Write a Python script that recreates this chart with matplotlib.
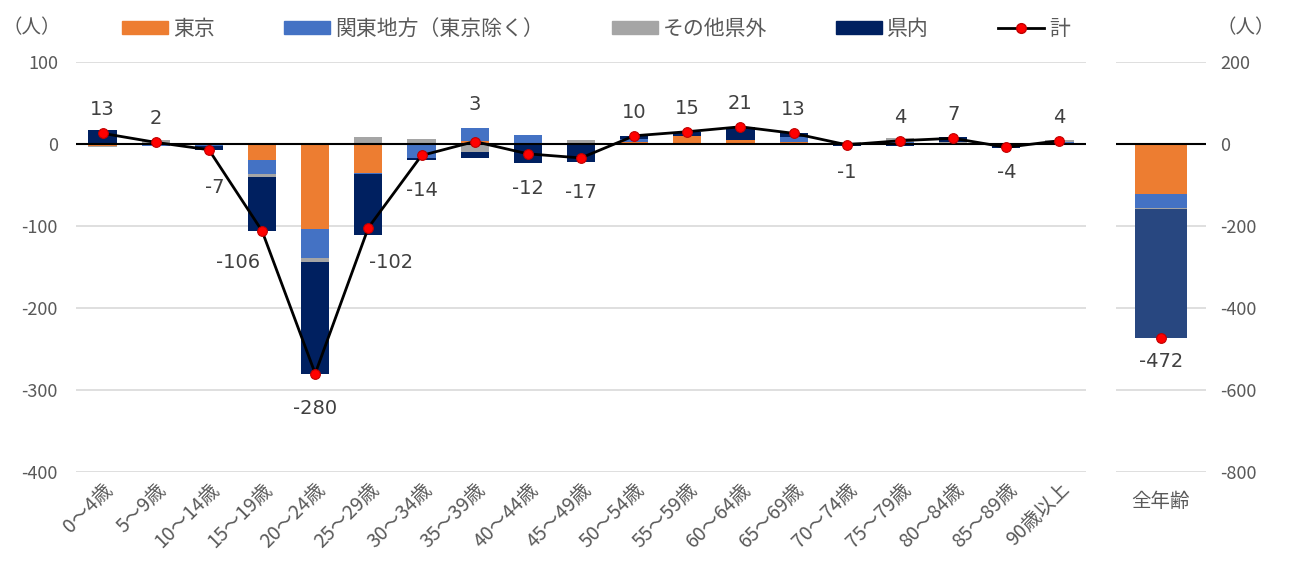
import matplotlib
matplotlib.use("Agg")
import matplotlib.pyplot as plt
from matplotlib.patches import Patch
from matplotlib.lines import Line2D
import numpy as np

plt.rcParams['font.family'] = ['Noto Sans CJK JP', 'DejaVu Sans']
plt.rcParams['axes.unicode_minus'] = False

categories = ["0～4歳", "5～9歳", "10～14歳", "15～19歳", "20～24歳", "25～29歳",
              "30～34歳", "35～39歳", "40～44歳", "45～49歳", "50～54歳", "55～59歳",
              "60～64歳", "65～69歳", "70～74歳", "75～79歳", "80～84歳", "85～89歳", "90歳以上"]
tokyo  = [-3, 0, 0, -20, -104, -35, 0, 4, 0, 0, 3, 10, 5, 3, 0, 1, -1, 0, 0]
kanto  = [0, -2, -2, -16, -35, -2, -17, 16, 11, 0, 3, 0, 0, 5, 0, 2, 0, 0, 2]
other  = [-1, 5, 0, -4, -5, 9, 6, -10, 0, 5, 0, 0, 0, 0, 2, 4, 3, 1, 3]
kennai = [17, -1, -5, -66, -136, -74, -3, -7, -23, -22, 4, 5, 16, 5, -3, -3, 5, -5, -1]
total  = [13, 2, -7, -106, -280, -102, -14, 3, -12, -17, 10, 15, 21, 13, -1, 4, 7, -4, 4]

all_label = "全年齢"
all_tokyo, all_kanto, all_other, all_kennai = -122, -35, -2, -313
all_total = -472

series_names = ["東京", "関東地方（東京除く）", "その他県外", "県内"]
colors = ["#ED7D31", "#4472C4", "#A5A5A5", "#002060"]
all_colors = ["#ED7D31", "#4472C4", "#A5A5A5", "#284780"]
text_col = "#404040"
tick_col = "#595959"
num_font = ['DejaVu Sans']

W, H = 1291, 585
fig = plt.figure(figsize=(W / 100, H / 100), dpi=100)
ax = fig.add_axes([76 / W, 1 - 472 / H, (1086 - 76) / W, (472 - 62) / H])
ax2 = fig.add_axes([1116 / W, 1 - 472 / H, (1206 - 1116) / W, (472 - 62) / H])

x = np.arange(len(categories))
data = [tokyo, kanto, other, kennai]
pos_base = np.zeros(len(x))
neg_base = np.zeros(len(x))
for vals, c in zip(data, colors):
    v = np.array(vals, dtype=float)
    base = np.where(v >= 0, pos_base, neg_base)
    ax.bar(x, v, bottom=base, width=0.53, color=c, zorder=2)
    pos_base += np.where(v >= 0, v, 0)
    neg_base += np.where(v < 0, v, 0)

ax.plot(x, total, color="black", lw=2, marker="o", markersize=7,
        markerfacecolor="#FF0000", markeredgecolor="#C00000", markeredgewidth=0.8, zorder=4)

# label offsets (points) for labels that sit off the default position
offsets = {2: (4, -27), 3: (-17, -23), 5: (16, -25), 7: (0, 27), 14: (0, -20), 17: (0, -18)}
for i, t in enumerate(total):
    if i in offsets:
        dx, dy = offsets[i]
    else:
        dx, dy = (0, 17) if t >= 0 else (0, -25)
    ax.annotate(f"{t}", (x[i], t), xytext=(dx, dy), textcoords="offset points",
                ha="center", va="center", fontsize=14, color=text_col, family=num_font)

ax.set_xlim(-0.5, len(x) - 0.5)
ax.set_ylim(-400, 100)
ax.set_yticks([100, 0, -100, -200, -300, -400])
for yv in [100, -100, -200, -300, -400]:
    ax.axhline(yv, color="#D9D9D9", lw=1.2, zorder=0)
ax.axhline(0, color="black", lw=1.5, zorder=3)
for s in ax.spines.values():
    s.set_visible(False)
ax.tick_params(axis="both", length=0, colors=tick_col)
ax.tick_params(axis="y", labelsize=13, pad=13)
ax.set_xticks(x)
ax.set_xticklabels(categories, rotation=45, ha="right", rotation_mode="anchor", fontsize=14)
ax.tick_params(axis="x", pad=5)

# all-ages panel
all_vals = [all_tokyo, all_kanto, all_other, all_kennai]
pb, nb = 0.0, 0.0
for v, c in zip(all_vals, all_colors):
    b = pb if v >= 0 else nb
    ax2.bar([0], [v], bottom=b, width=0.57, color=c, zorder=2)
    if v >= 0:
        pb += v
    else:
        nb += v
ax2.plot([0], [all_total], marker="o", markersize=7, color="#FF0000",
         markeredgecolor="#C00000", markeredgewidth=0.8, lw=0, zorder=4)
ax2.annotate(f"{all_total}", (0, all_total), xytext=(0, -17), textcoords="offset points",
             ha="center", va="center", fontsize=14, color=text_col, family=num_font)
ax2.set_xlim(-0.5, 0.5)
ax2.set_ylim(-800, 200)
ax2.set_yticks([200, 0, -200, -400, -600, -800])
for yv in [200, -200, -400, -600, -800]:
    ax2.axhline(yv, color="#D9D9D9", lw=1.2, zorder=0)
ax2.axhline(0, color="black", lw=1.5, zorder=3)
for s in ax2.spines.values():
    s.set_visible(False)
ax2.yaxis.tick_right()
ax2.tick_params(axis="both", length=0, colors=tick_col)
ax2.tick_params(axis="y", labelsize=13, pad=10)
ax2.set_xticks([0])
ax2.set_xticklabels([all_label], fontsize=14)
ax2.tick_params(axis="x", pad=14)

# unit labels
fig.text(32 / W, 1 - 28 / H, "（人）", ha="center", va="center", fontsize=14, color=tick_col)
fig.text(1246 / W, 1 - 28 / H, "（人）", ha="center", va="center", fontsize=14, color=tick_col)

handles = [Patch(color=c) for c in colors] + [
    Line2D([0], [0], color="black", lw=2, marker="o", markersize=7,
           markerfacecolor="#FF0000", markeredgecolor="#C00000")]
labels = series_names + ["計"]
fig.legend(handles, labels, loc="center", bbox_to_anchor=(596 / W, 1 - 29 / H), ncol=5,
           frameon=False, fontsize=15, handlelength=2.2, handleheight=0.6,
           columnspacing=3.3, handletextpad=0.25, labelcolor=tick_col)

fig.savefig("out.png", dpi=100)
